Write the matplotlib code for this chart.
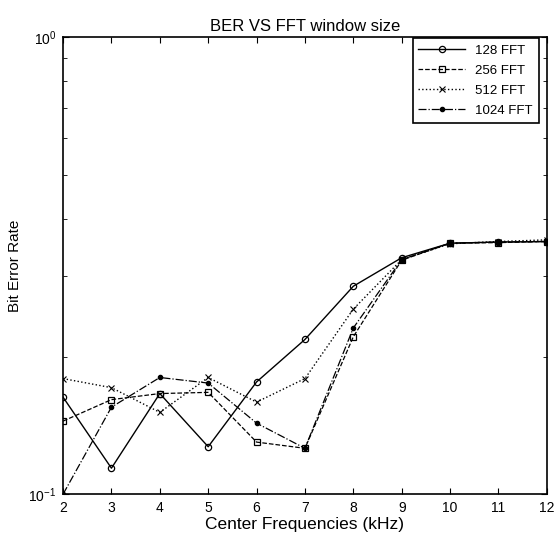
import matplotlib
matplotlib.use("Agg")
import matplotlib.pyplot as plt
import numpy as np

plt.rcParams['font.family'] = ['Liberation Sans', 'DejaVu Sans']

# center frequencies (kHz)
freqs = [2, 3, 4, 5, 6, 7, 8, 9, 10, 11, 12]

# bit error rate for each fft window size
ber_128 = [0.163, 0.114, 0.166, 0.127, 0.176, 0.218, 0.285, 0.329, 0.354, 0.356, 0.357]
ber_256 = [0.1445, 0.161, 0.166, 0.167, 0.130, 0.126, 0.221, 0.325, 0.354, 0.355, 0.357]
ber_512 = [0.179, 0.171, 0.151, 0.180, 0.159, 0.179, 0.254, 0.326, 0.353, 0.357, 0.360]
ber_1024 = [0.100, 0.155, 0.180, 0.175, 0.143, 0.126, 0.231, 0.326, 0.354, 0.356, 0.357]

labels = ['128 FFT', '256 FFT', '512 FFT', '1024 FFT']

fig = plt.figure(figsize=(5.58, 5.36), dpi=100)
ax = fig.add_axes([0.113, 0.078, 0.867, 0.853])

ax.plot(freqs, ber_128, '-', color='k', lw=1.0, marker='o', ms=4.5, mfc='none', mew=0.9, label=labels[0])
ax.plot(freqs, ber_256, '--', color='k', lw=0.9, marker='s', ms=5, mfc='none', mew=0.9, label=labels[1])
ax.plot(freqs, ber_512, ':', color='k', lw=1.0, marker='x', ms=4, mew=0.8, label=labels[2])
ax.plot(freqs, ber_1024, '-.', color='k', lw=0.9, marker='.', ms=6, label=labels[3])

ax.set_yscale('log')
ax.set_xlim(2, 12)
ax.set_ylim(0.1, 1)
ax.set_xticks(range(2, 13))

ax.tick_params(which='both', direction='in', top=True, right=True, labelsize=10)
ax.tick_params(which='major', length=4, pad=5)
ax.tick_params(which='minor', length=3)
ax.yaxis.set_minor_formatter(matplotlib.ticker.NullFormatter())
for s in ax.spines.values():
    s.set_linewidth(1.2)

ax.set_title('BER VS FFT window size', fontsize=12, pad=4)
ax.set_xlabel('Center Frequencies (kHz)', fontsize=12.5, labelpad=1)
ax.set_ylabel('Bit Error Rate', fontsize=11, labelpad=4)

leg = ax.legend(loc='upper right', bbox_to_anchor=(0.983, 0.997), fontsize=9.5,
                fancybox=False, framealpha=1, edgecolor='k', borderaxespad=0,
                handlelength=3.5, labelspacing=0.6, borderpad=0.45)
leg.get_frame().set_linewidth(1.2)

plt.savefig('out.png', dpi=100)
